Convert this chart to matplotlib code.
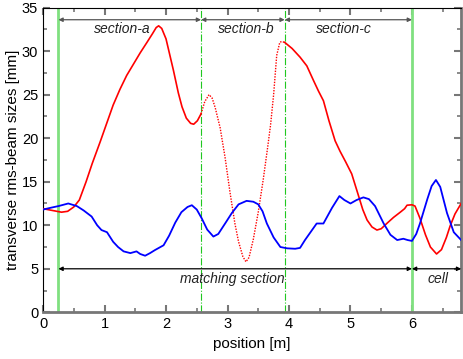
import matplotlib
matplotlib.use("Agg")
import matplotlib.pyplot as plt
import numpy as np

# red beam size (mm) vs position (m)
red_x = [0, 0.15, 0.3, 0.4, 0.5, 0.59, 0.7, 0.8, 0.93, 1.05, 1.14, 1.25, 1.36, 1.47, 1.58,
         1.69, 1.78, 1.84, 1.88, 1.93, 2.0, 2.12, 2.2, 2.26, 2.33, 2.4, 2.45, 2.51, 2.57,
         2.63, 2.7, 2.75, 2.8, 2.88, 2.96, 3.04, 3.12, 3.18, 3.25, 3.3, 3.35, 3.42, 3.5,
         3.58, 3.65, 3.7, 3.75, 3.8, 3.85, 3.88, 3.93, 4.05, 4.18, 4.29, 4.4, 4.48, 4.56,
         4.65, 4.75, 4.83, 4.92, 5.02, 5.13, 5.2, 5.27, 5.35, 5.43, 5.5, 5.59, 5.7, 5.81,
         5.88, 5.92, 6.0, 6.05, 6.13, 6.22, 6.3, 6.4, 6.48, 6.56, 6.62, 6.7, 6.8]
red_y = [11.9, 11.7, 11.5, 11.6, 12.1, 12.9, 15.0, 17.1, 19.6, 22.0, 23.8, 25.6, 27.2, 28.5, 29.8,
         31.0, 32.0, 32.7, 32.9, 32.6, 31.4, 27.8, 25.2, 23.6, 22.3, 21.7, 21.6, 22.0, 22.8,
         24.2, 25.0, 24.6, 23.5, 21.2, 17.8, 13.8, 10.2, 8.1, 6.4, 5.8, 6.3, 8.4, 11.5,
         15.2, 18.8, 21.5, 25.0, 29.5, 31.0, 31.1, 31.0, 30.3, 29.3, 28.3, 26.6, 25.4, 24.3,
         22.0, 19.7, 18.5, 17.3, 15.9, 13.4, 11.8, 10.6, 9.8, 9.45, 9.6, 10.2, 10.9, 11.5,
         11.9, 12.3, 12.35, 12.2, 10.8, 8.9, 7.5, 6.7, 7.2, 8.6, 9.9, 11.3, 12.5]

# blue beam size (mm) vs position (m)
blue_x = [0, 0.12, 0.25, 0.41, 0.55, 0.66, 0.79, 0.88, 0.95, 1.04, 1.14, 1.22, 1.31, 1.42,
          1.52, 1.58, 1.66, 1.74, 1.82, 1.96, 2.05, 2.15, 2.25, 2.35, 2.42, 2.5, 2.58, 2.67,
          2.77, 2.85, 2.97, 3.07, 3.18, 3.31, 3.42, 3.5, 3.57, 3.64, 3.75, 3.86, 3.97, 4.1,
          4.18, 4.26, 4.34, 4.45, 4.56, 4.7, 4.82, 4.9, 5.0, 5.1, 5.21, 5.3, 5.4, 5.54, 5.65,
          5.76, 5.86, 5.93, 6.0, 6.07, 6.13, 6.25, 6.32, 6.39, 6.46, 6.57, 6.68, 6.8]
blue_y = [11.8, 12.0, 12.2, 12.5, 12.2, 11.7, 11.0, 10.0, 9.45, 9.2, 8.1, 7.5, 7.0, 6.8,
          7.0, 6.7, 6.5, 6.8, 7.15, 7.7, 8.8, 10.3, 11.5, 12.1, 12.3, 11.8, 10.8, 9.5,
          8.7, 9.0, 10.3, 11.4, 12.4, 12.8, 12.7, 12.4, 11.6, 10.2, 8.6, 7.5, 7.35, 7.3,
          7.4, 8.3, 9.1, 10.2, 10.2, 12.0, 13.35, 12.9, 12.5, 12.9, 13.2, 13.0, 12.2, 10.2, 8.9,
          8.3, 8.45, 8.3, 8.2, 9.0, 10.2, 13.0, 14.5, 15.2, 14.4, 11.4, 9.2, 8.3]

# section boundaries (m)
match_start = 0.25
sec_ab = 2.57
sec_bc = 3.93
cell_start = 6.0
x_end = 6.8

top_sections = ["section-a", "section-b", "section-c"]
top_label_x = [1.29, 3.30, 4.89]

plt.rcParams['font.family'] = ['Liberation Sans', 'DejaVu Sans']

fig = plt.figure(figsize=(4.63, 3.59), dpi=100)
ax = fig.add_axes([0.093, 0.130, 0.903, 0.849])

rx = np.array(red_x)
ry = np.array(red_y)
m1 = rx <= sec_ab
m2 = (rx >= sec_ab) & (rx <= sec_bc)
m3 = rx >= sec_bc
ax.plot(rx[m1], ry[m1], color="red", lw=1.2, zorder=4)
ax.plot(rx[m2], ry[m2], color="red", lw=1.0, ls=(0, (1, 1)), zorder=4)
ax.plot(rx[m3], ry[m3], color="red", lw=1.2, zorder=4)
ax.plot(blue_x, blue_y, color="blue", lw=1.3, zorder=4)

# boundary lines
for xv in [match_start, cell_start]:
    ax.axvline(xv, color="#80e080", lw=2, zorder=2)
for xv in [sec_ab, sec_bc]:
    ax.axvline(xv, color="#20c820", lw=0.8, ls="-.", zorder=2)

# top arrows
bounds = [match_start, sec_ab, sec_bc, cell_start]
for i in range(3):
    ax.annotate("", xy=(bounds[i], 33.6), xytext=(bounds[i + 1], 33.6),
                arrowprops=dict(arrowstyle="<|-|>", color="#555555", lw=0.9,
                                mutation_scale=6, shrinkA=0, shrinkB=0))
    ax.text(top_label_x[i], 32.5, top_sections[i], style="italic", fontsize=10,
            ha="center", va="center", color="#222222")

# bottom arrows
ax.annotate("", xy=(match_start, 5), xytext=(cell_start, 5),
            arrowprops=dict(arrowstyle="<|-|>", color="black", lw=0.9,
                            mutation_scale=6, shrinkA=0, shrinkB=0))
ax.annotate("", xy=(cell_start, 5), xytext=(x_end, 5),
            arrowprops=dict(arrowstyle="<|-|>", color="black", lw=0.9,
                            mutation_scale=6, shrinkA=0, shrinkB=0))
ax.text(3.07, 3.8, "matching section", style="italic", fontsize=10, ha="center", va="center",
        color="#222222")
ax.text(6.43, 3.8, "cell", style="italic", fontsize=10, ha="center", va="center",
        color="#222222")

ax.set_xlim(0, x_end)
ax.set_ylim(0, 35)
ax.set_xticks(range(0, 7))
ax.set_xticks(np.arange(0.5, 6.8, 1.0), minor=True)
ax.set_yticks(range(0, 36, 5))
ax.set_yticks(np.arange(2.5, 35, 5), minor=True)
ax.tick_params(which="both", direction="in", top=True, right=True, labelsize=10.5,
               color="#777777")
ax.tick_params(which="major", length=5, width=1.5)
ax.tick_params(which="minor", length=3, width=1.2)

ax.spines["left"].set_color("black")
ax.spines["top"].set_color("black")
ax.spines["left"].set_linewidth(0.8)
ax.spines["top"].set_linewidth(0.8)
ax.spines["bottom"].set_color("#777777")
ax.spines["right"].set_color("#777777")
ax.spines["bottom"].set_linewidth(2)
ax.spines["right"].set_linewidth(2)

ax.set_xlabel("position [m]", fontsize=11)
ax.set_ylabel("transverse rms-beam sizes [mm]", fontsize=11, labelpad=1)

plt.savefig("out.png", dpi=100)
